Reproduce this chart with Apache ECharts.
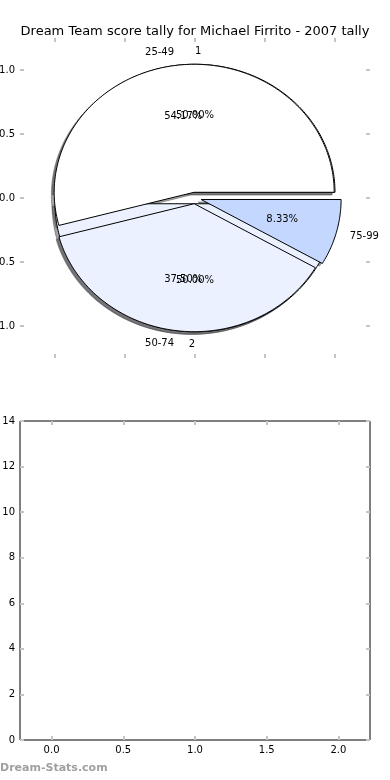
<!DOCTYPE html>
<html>
<head>
<meta charset="utf-8">
<script src="https://cdn.jsdelivr.net/npm/echarts@6/dist/echarts.min.js"></script>
<style>
html,body{margin:0;padding:0;background:#fff;}
#chart{width:390px;height:780px;}
</style>
</head>
<body>
<div id="chart"></div>
<script>
// ---- data ----
const titleText = 'Dream Team score tally for Michael Firrito - 2007 tally';
const pie1Labels = ['25-49', '50-74', '75-99'];
const pie1Values = [13, 9, 2];
const pie2Labels = ['1', '2'];
const pie2Values = [1, 1];
const pieTickValues = [-1, -0.5, 0, 0.5, 1];
const barXTicks = [0, 0.5, 1, 1.5, 2];
const barYTicks = [0, 2, 4, 6, 8, 10, 12, 14];
const watermark = 'Dream-Stats.com';

// ---- style ----
const pie1Colors = ['#ffffff', '#ebf1ff', '#c4d8ff'];
const pie2Colors = ['#ffffff', '#ebf1ff'];
const EXPLODE = 0.045;
const SHADOW_OFF = -0.02;
const FONT = 'DejaVu Sans';
const TICK_COLOR = '#c4c4c4';

function slices(values) {
  const total = values.reduce((a, b) => a + b, 0);
  let acc = 0;
  return values.map(v => {
    const s = acc / total * 360;
    acc += v;
    return { start: s, end: acc / total * 360, frac: v / total };
  });
}
const pie1Slices = slices(pie1Values);
const pie2Slices = slices(pie2Values);

function wedgePoints(api, sl, dx, dy) {
  const mid = (sl.start + sl.end) / 2 * Math.PI / 180;
  const cx = EXPLODE * Math.cos(mid) + dx;
  const cy = EXPLODE * Math.sin(mid) + dy;
  const pts = [api.coord([cx, cy])];
  const n = Math.max(4, Math.ceil(sl.end - sl.start));
  for (let i = 0; i <= n; i++) {
    const a = (sl.start + (sl.end - sl.start) * i / n) * Math.PI / 180;
    pts.push(api.coord([cx + Math.cos(a), cy + Math.sin(a)]));
  }
  return pts;
}

function shadowColor(hex) {
  const r = parseInt(hex.slice(1, 3), 16), g = parseInt(hex.slice(3, 5), 16), b = parseInt(hex.slice(5, 7), 16);
  return 'rgba(' + Math.round(r * 0.3) + ',' + Math.round(g * 0.3) + ',' + Math.round(b * 0.3) + ',0.5)';
}

function wedgeSeries(sl, colors, z) {
  return {
    type: 'custom', coordinateSystem: 'cartesian2d', xAxisIndex: 0, yAxisIndex: 0, z: z,
    silent: true, clip: false,
    data: sl.map((s, i) => [i, s.frac]),
    renderItem: function (params, api) {
      const s = sl[params.dataIndex];
      return {
        type: 'polygon',
        shape: { points: wedgePoints(api, s, 0, 0) },
        style: { fill: colors[params.dataIndex], stroke: '#000', lineWidth: 1 }
      };
    }
  };
}

function shadowSeries(sl, colors, z) {
  return {
    type: 'custom', coordinateSystem: 'cartesian2d', xAxisIndex: 0, yAxisIndex: 0, z: z,
    silent: true, clip: false,
    data: sl.map((s, i) => [i, s.frac]),
    renderItem: function (params, api) {
      const s = sl[params.dataIndex];
      const c = shadowColor(colors[params.dataIndex]);
      return {
        type: 'polygon',
        shape: { points: wedgePoints(api, s, SHADOW_OFF, SHADOW_OFF) },
        style: { fill: c, stroke: c, lineWidth: 1 }
      };
    }
  };
}

function labelSeries(sl, labels, z) {
  return {
    type: 'custom', coordinateSystem: 'cartesian2d', xAxisIndex: 0, yAxisIndex: 0, z: z,
    silent: true, clip: false,
    data: sl.map((s, i) => [i, s.frac]),
    renderItem: function (params, api) {
      const s = sl[params.dataIndex];
      const mid = (s.start + s.end) / 2 * Math.PI / 180;
      const c = Math.cos(mid), n = Math.sin(mid);
      const ex = EXPLODE * c, ey = EXPLODE * n;
      const lp = api.coord([ex + 1.1 * c, ey + 1.1 * n]);
      const pp = api.coord([ex + 0.6 * c, ey + 0.6 * n]);
      return {
        type: 'group',
        children: [
          { type: 'text', x: lp[0], y: lp[1],
            style: { text: labels[params.dataIndex], fill: '#000', font: '10px "' + FONT + '"',
              align: c > 0 ? 'left' : 'right', verticalAlign: 'middle' } },
          { type: 'text', x: pp[0], y: pp[1],
            style: { text: (s.frac * 100).toFixed(2) + '%', fill: '#000', font: '10px "' + FONT + '"',
              align: 'center', verticalAlign: 'middle' } }
        ]
      };
    }
  };
}

const tickBase = { show: true, inside: true, length: 4, lineStyle: { color: TICK_COLOR, width: 2 } };
const noLine = { show: false, onZero: false };

const option = {
  animation: false,
  backgroundColor: '#fff',
  textStyle: { fontFamily: FONT },
  title: {
    text: titleText, left: 'center', top: 20,
    textStyle: { fontSize: 13, fontWeight: 'normal', color: '#000', fontFamily: FONT }
  },
  graphic: [{
    type: 'text', left: 0, top: 763,
    style: { text: watermark, fill: '#a0a0a0', font: 'bold 11px "' + FONT + '"' }
  }],
  grid: [
    { left: 20, top: 38, width: 350, height: 320, show: false, containLabel: false, outerBoundsMode: 'none' },
    { left: 20, top: 421, width: 350, height: 319, show: true, borderColor: '#000', borderWidth: 1, backgroundColor: '#fff', containLabel: false, outerBoundsMode: 'none' }
  ],
  xAxis: [
    { type: 'value', gridIndex: 0, min: -1.25, max: 1.25, position: 'bottom',
      axisLine: noLine, splitLine: { show: false },
      axisTick: Object.assign({ customValues: pieTickValues }, tickBase),
      axisLabel: { show: false } },
    { type: 'value', gridIndex: 0, min: -1.25, max: 1.25, position: 'top',
      axisLine: noLine, splitLine: { show: false },
      axisTick: Object.assign({ customValues: pieTickValues }, tickBase),
      axisLabel: { show: false } },
    { type: 'value', gridIndex: 1, min: -0.22, max: 2.22, position: 'bottom',
      axisLine: noLine, splitLine: { show: false },
      axisTick: Object.assign({ customValues: barXTicks }, tickBase),
      axisLabel: { customValues: barXTicks, formatter: v => v.toFixed(1), fontSize: 10, color: '#000', margin: 5, fontFamily: FONT } },
    { type: 'value', gridIndex: 1, min: -0.22, max: 2.22, position: 'top',
      axisLine: noLine, splitLine: { show: false },
      axisTick: Object.assign({ customValues: barXTicks }, tickBase),
      axisLabel: { show: false } }
  ],
  yAxis: [
    { type: 'value', gridIndex: 0, min: -1.25, max: 1.25, position: 'left',
      axisLine: noLine, splitLine: { show: false },
      axisTick: Object.assign({ customValues: pieTickValues }, tickBase),
      axisLabel: { customValues: pieTickValues, formatter: v => v.toFixed(1), fontSize: 10, color: '#000', margin: 5, fontFamily: FONT } },
    { type: 'value', gridIndex: 0, min: -1.25, max: 1.25, position: 'right',
      axisLine: noLine, splitLine: { show: false },
      axisTick: Object.assign({ customValues: pieTickValues }, tickBase),
      axisLabel: { show: false } },
    { type: 'value', gridIndex: 1, min: 0, max: 14, interval: 2, position: 'left',
      axisLine: noLine, splitLine: { show: false },
      axisTick: Object.assign({ customValues: barYTicks }, tickBase),
      axisLabel: { customValues: barYTicks, fontSize: 10, color: '#000', margin: 5, fontFamily: FONT } },
    { type: 'value', gridIndex: 1, min: 0, max: 14, interval: 2, position: 'right',
      axisLine: noLine, splitLine: { show: false },
      axisTick: Object.assign({ customValues: barYTicks }, tickBase),
      axisLabel: { show: false } }
  ],
  series: [
    shadowSeries(pie2Slices, pie2Colors, 1),
    shadowSeries(pie1Slices, pie1Colors, 2),
    wedgeSeries(pie2Slices, pie2Colors, 3),
    wedgeSeries(pie1Slices, pie1Colors, 4),
    labelSeries(pie2Slices, pie2Labels, 5),
    labelSeries(pie1Slices, pie1Labels, 6)
  ]
};

const chart = echarts.init(document.getElementById('chart'), null, { renderer: 'canvas' });
chart.setOption(option);
</script>
</body>
</html>
